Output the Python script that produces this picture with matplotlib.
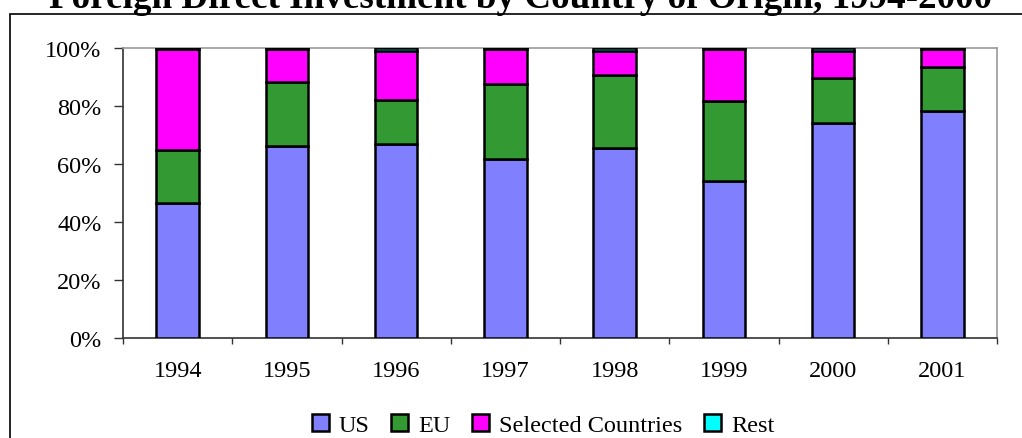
import numpy as np
import matplotlib
matplotlib.use("Agg")
import matplotlib.pyplot as plt
from matplotlib.patches import Rectangle

plt.rcParams['font.family'] = ['Liberation Serif', 'DejaVu Serif']

years = ["1994", "1995", "1996", "1997", "1998", "1999", "2000", "2001"]
us = [46.5, 66.1, 67.0, 61.7, 65.4, 54.0, 74.1, 78.3]
eu = [18.5, 22.1, 15.1, 25.8, 25.4, 27.6, 15.6, 15.1]
selected = [34.6, 11.4, 16.8, 12.1, 8.0, 18.0, 9.2, 6.2]
rest = [0.4, 0.4, 1.1, 0.4, 1.2, 0.4, 1.1, 0.4]

series = [("US", us, "#8080FF"), ("EU", eu, "#339933"),
          ("Selected Countries", selected, "#FF00FF"), ("Rest", rest, "#00FFFF")]

fig = plt.figure(figsize=(10.22, 4.39), dpi=100)
ax = fig.add_axes([123 / 1022, 100 / 439, 874 / 1022, 290 / 439])

x = np.arange(len(years))
bottom = np.zeros(len(years))
for name, vals, col in series:
    ax.bar(x, vals, width=0.39, bottom=bottom, color=col, edgecolor="black",
           linewidth=1.8, label=name, zorder=3)
    bottom += np.array(vals)

ax.set_xlim(-0.5, len(years) - 0.5)
ax.set_ylim(0, 100)
ax.set_yticks(range(0, 101, 20))
ax.set_yticklabels([f"{v}%" for v in range(0, 101, 20)], fontsize=17.5)
ax.set_xticks(np.arange(-0.5, len(years)), labels=[])
ax.set_xticks(x, labels=years, minor=True)
ax.tick_params(axis="x", which="minor", length=0, labelsize=17.5, pad=16)
ax.tick_params(axis="x", which="major", length=4, width=1, color="#333333")
ax.tick_params(axis="y", length=6.5, width=1, color="#333333", pad=9, direction="out")

for s in ["left", "bottom"]:
    ax.spines[s].set_color("#333333")
    ax.spines[s].set_linewidth(1.2)
for s in ["top", "right"]:
    ax.spines[s].set_color("#999999")
    ax.spines[s].set_linewidth(1.2)

# outer chart frame (extends past the image edge)
fig.patches.append(Rectangle((10 / 1022, -0.1), 1.2, (439 - 15) / 439 + 0.1,
                             transform=fig.transFigure, fill=False,
                             edgecolor="black", linewidth=1.2, clip_on=False))

fig.text(521 / 1022, (439 - 8) / 439,
         "Foreign Direct Investment by Country of Origin, 1994-2000",
         ha="center", va="baseline", fontsize=26.7, fontweight="bold")

fig.legend(loc="center", bbox_to_anchor=(543 / 1022, 13 / 439), ncol=4,
           frameon=False, fontsize=17.5, handlelength=0.7, handleheight=0.7,
           handletextpad=0.4, columnspacing=0.9, borderaxespad=0)

fig.savefig("out.png", dpi=100)
